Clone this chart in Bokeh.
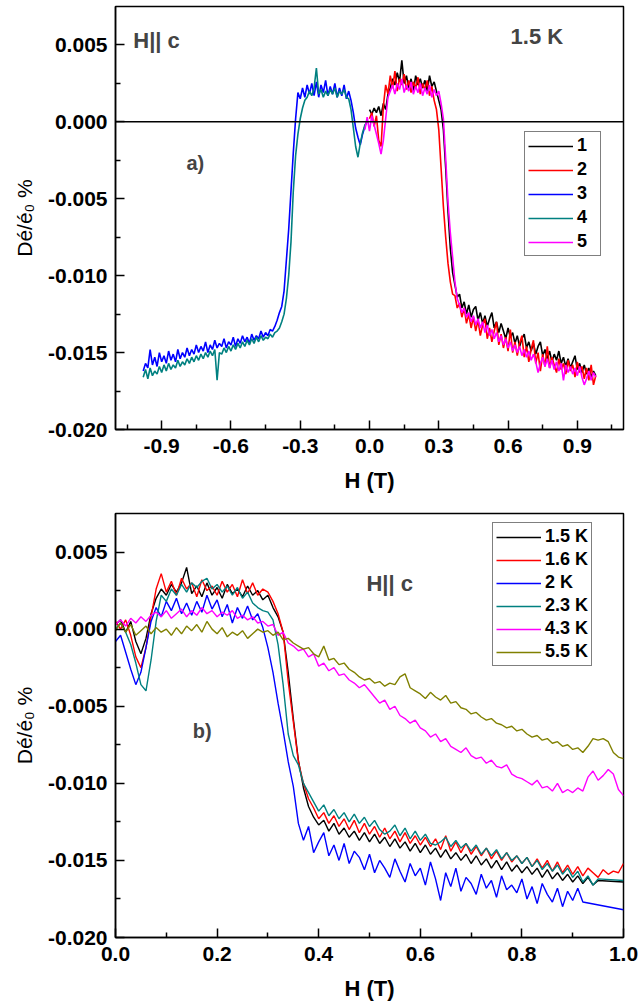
from bokeh.plotting import figure
from bokeh.layouts import column
from bokeh.models import (Span, Label, Legend, LegendItem, FixedTicker,
                          PrintfTickFormatter, Range1d)
from bokeh.embed import file_html
from bokeh.resources import INLINE

FONT = "Liberation Sans"
UNIT = 1e-4  # all series values below are De/e0 % in units of 1e-4

# ---------------- panel a) : H || c, 1.5 K ----------------
H_POS = [round(0.01 * i, 2) for i in range(99)]        # 0.00 .. 0.98
H_POS5 = [round(0.01 * i, 2) for i in range(-2, 99)]   # -0.02 .. 0.98
H_NEG = [round(0.01 * i, 2) for i in range(-98, 0)]    # -0.98 .. -0.01

A1 = [8, 5, 9, 6, 10, 4, 12, 8, 18, 22,
      28, 24, 32, 26, 40, 25, 30, 22, 28, 20,
      30, 24, 28, 22, 27, 20, 30, 23, 26, 20,
      14, 8, -5, -30, -58, -82, -98, -106, -114, -112,
      -121, -117, -125, -119, -127, -122, -120, -129, -124, -131,
      -126, -133, -128, -124, -134, -130, -137, -131, -136, -141,
      -134, -140, -137, -144, -139, -146, -141, -138, -147, -143,
      -149, -144, -151, -146, -143, -152, -148, -154, -149, -156,
      -151, -155, -149, -157, -153, -159, -154, -160, -156, -152,
      -161, -157, -163, -158, -164, -160, -166, -162, -165]

A2 = [2, 6, -3, 4, -12, -16, 10, 24, 18, 30,
      22, 33, 20, 28, 24, 31, 21, 27, 19, 26,
      22, 29, 18, 25, 21, 27, 17, 23, 14, 8,
      -5, -30, -55, -75, -92, -104, -112, -113, -121, -118,
      -127, -121, -131, -125, -134, -127, -136, -129, -139, -132,
      -128, -141, -134, -143, -136, -130, -145, -138, -147, -140,
      -149, -135, -150, -143, -152, -144, -139, -153, -146, -156,
      -148, -142, -157, -150, -162, -151, -159, -146, -160, -153,
      -158, -163, -154, -161, -157, -164, -155, -162, -158, -166,
      -156, -163, -159, -167, -160, -168, -158, -171, -165]

A3 = [-162, -157, -160, -148, -158, -153, -159, -150, -156, -152,
      -157, -149, -155, -151, -156, -148, -154, -150, -153, -147,
      -152, -148, -151, -145, -150, -146, -149, -143, -150, -145,
      -148, -142, -147, -144, -146, -141, -147, -143, -145, -140,
      -146, -141, -144, -139, -143, -140, -144, -138, -142, -139,
      -141, -136, -140, -137, -139, -135, -136, -133, -129, -124,
      -120, -110, -90, -70, -45, -20, 2, 19, 15, 22,
      16, 24, 18, 25, 17, 26, 16, 24, 19, 27,
      17, 23, 18, 25, 16, 22, 17, 24, 15, 20,
      14, 6, -4, -10, -15, -8, -3, 1]

A4 = [-166, -161, -167, -160, -165, -162, -164, -159, -163, -158,
      -162, -157, -161, -158, -160, -155, -159, -156, -158, -154,
      -157, -153, -156, -152, -155, -151, -154, -150, -153, -149,
      -152, -148, -168, -150, -151, -147, -150, -146, -149, -145,
      -148, -144, -147, -143, -146, -142, -145, -141, -144, -140,
      -143, -139, -142, -140, -141, -138, -140, -137, -136, -134,
      -130, -125, -115, -100, -78, -45, -22, -8, 2, 9,
      14, 16, 20, 17, 22, 35, 18, 21, 16, 20,
      17, 21, 18, 22, 16, 20, 18, 21, 16, 15,
      8, -4, -16, -23, -14, -7, -2, 0]

A5 = [-5, 3,
      -6, 4, -2, -8, -14, -21, -12, 2, 16, 20,
      24, 18, 25, 21, 28, 19, 24, 20, 26, 18,
      23, 19, 25, 17, 22, 18, 24, 16, 21, 17,
      20, 12, 2, -24, -52, -72, -88, -104, -115, -119,
      -124, -121, -127, -124, -130, -126, -132, -128, -134, -130,
      -137, -132, -139, -135, -141, -137, -143, -139, -145, -141,
      -147, -143, -149, -145, -150, -146, -152, -148, -153, -149,
      -155, -151, -156, -163, -157, -153, -159, -154, -160, -155,
      -161, -156, -162, -157, -168, -158, -163, -159, -164, -160,
      -165, -159, -166, -171, -167, -162, -168, -163, -166]

LABELS_A = ["1", "2", "3", "4", "5"]

# ---------------- panel b) : temperatures ----------------
H_B = [round(0.01 * i, 2) for i in range(101)]         # 0.00 .. 1.00

B1 = [3, 6, -2, 5, -8, -16, -6, 10, 20, 26,
      22, 29, 24, 30, 40, 23, 28, 21, 30, 22,
      27, 20, 29, 23, 26, 21, 28, 22, 25, 19,
      22, 14, 8, -2, -28, -58, -85, -103, -115, -122,
      -127, -124, -131, -126, -133, -129, -135, -131, -137, -132,
      -138, -133, -139, -135, -141, -136, -142, -138, -144, -139,
      -145, -140, -146, -142, -148, -143, -149, -145, -150, -146,
      -152, -147, -153, -149, -155, -150, -156, -151, -157, -153,
      -158, -154, -159, -155, -161, -156, -162, -158, -163, -159,
      -164, -160, -165, -161, -166, -163,
      -164]
H_B1 = H_B[:96] + [1.0]

B2 = [5, 0, 6, -4, -18, -25, -12, 8, 26, 36,
      24, 31, 22, 33, 26, 30, 21, 32, 25, 28,
      22, 31, 24, 29, 21, 32, 23, 30, 22, 26,
      24, 18, 10, -2, -34, -60, -86, -100, -110, -116,
      -123, -119, -126, -121, -128, -123, -130, -124, -132, -126,
      -133, -128, -135, -129, -136, -131, -138, -132, -139, -134,
      -140, -135, -141, -136, -143, -134, -144, -138, -145, -139,
      -146, -141, -147, -142, -149, -144, -150, -145, -151, -147,
      -152, -148, -154, -149, -155, -150, -157, -151, -158, -153,
      -159, -154, -160, -155, -158, -161, -156, -159, -157, -158,
      -152]

B3 = [-8, -4, -15, -26, -36, -28, -12, 5, 14, 8,
      18, 12, 20, 10, 17, 9, 18, 11, 22, 13,
      19, 8, 16, 4, 14, 7, 15, 6, 10, 1,
      -12, -28, -48, -66, -86, -102, -126, -137, -128, -145,
      -138, -132, -147, -140, -150, -139, -152, -144, -148, -156,
      -146, -158, -150, -155, -161, -149, -157, -164, -152, -160,
      -155, -166, -151, -162, -176, -158, -167, -155, -170, -161,
      -165, -172, -159, -168, -163, -174, -160, -169, -166, -171,
      -162, -175, -167, -178, -165, -172, -177, -168, -180, -170,
      -176, -168, -177,
      -182]
H_B3 = H_B[:93] + [1.0]

B4 = [0, 4, -2, -10, -22, -36, -40, -20, 5, 22,
      18, 26, 22, 29, 24, 30, 27, 31, 33, 26,
      29, 24, 28, 22, 27, 20, 24, 17, 14, 12,
      11, 6, -10, -36, -68, -82, -88, -100, -106, -112,
      -118, -114, -121, -117, -123, -119, -125, -120, -126, -122,
      -128, -124, -130, -133, -131, -127, -134, -129, -136, -131,
      -137, -133, -139, -140, -138, -135, -141, -137, -142, -139,
      -144, -140, -146, -142, -147, -143, -149, -145, -150, -147,
      -152, -148, -154, -150, -156, -152, -157, -153, -159, -155,
      -161, -157, -164, -160, -166, -162,
      -163]
H_B4 = H_B[:96] + [1.0]

B5 = [3, 6, 2, 7, 4, 8, 5, 9, 11, 8,
      12, 7, 10, 13, 8, 12, 9, 14, 10, 12,
      8, 11, 9, 12, 7, 9, 6, 8, 4, 5,
      2, 3, -4, -2, -9, -11, -14, -13, -18, -16,
      -24, -22, -27, -25, -30, -29, -33, -35, -38, -36,
      -40, -44, -48, -46, -52, -50, -56, -58, -61, -59,
      -64, -66, -70, -68, -73, -71, -76, -78, -80, -77,
      -82, -84, -83, -87, -85, -89, -90, -88, -94, -96,
      -97, -99, -101, -98, -103, -102, -105, -100, -106, -104,
      -106, -103, -105, -96, -92, -98, -95, -91, -94, -104,
      -108]

B6 = [-1, 4, -2, 3, -4, -1, 2, -3, 1, -2,
      0, -4, 1, -3, 2, -1, 3, -2, 5, 0,
      -3, 1, -5, -2, -4, -1, -6, -3, 0, -2,
      -1, -4, -2, -7, -6, -9, -11, -13, -12, -16,
      -18, -11, -20, -19, -23, -22, -26, -28, -31, -33,
      -32, -35, -34, -37, -35, -36, -31, -29, -38, -40,
      -42, -45, -41, -44, -46, -43, -48, -47, -51, -52,
      -55, -54, -57, -59, -58, -61, -62, -64, -63, -66,
      -65, -68, -70, -69, -72, -71, -74, -73, -76, -75,
      -78, -77, -80, -76, -71, -72, -71, -73, -80, -83,
      -84]

LABELS_B = ["1.5 K", "1.6 K", "2 K", "2.3 K", "4.3 K", "5.5 K"]

COLORS_A = ["#000000", "#ff0000", "#0000ff", "#008080", "#ff00ff"]
COLORS_B = ["#000000", "#ff0000", "#0000ff", "#008080", "#ff00ff", "#808000"]

Y_TICKS = [-0.020, -0.015, -0.010, -0.005, 0, 0.005]
Y_MINOR = [-0.0175, -0.0125, -0.0075, -0.0025, 0.0025]
XA_TICKS = [-0.9, -0.6, -0.3, 0, 0.3, 0.6, 0.9]
XA_MINOR = [-1.05, -0.75, -0.45, -0.15, 0.15, 0.45, 0.75, 1.05]
XB_TICKS = [0, 0.2, 0.4, 0.6, 0.8, 1.0]
XB_MINOR = [0.1, 0.3, 0.5, 0.7, 0.9]

Y_LABEL = "Dé/é\u2080 %"


def scaled(vals):
    return [v * UNIT for v in vals]


def style(p, xt, xm, xfmt):
    p.xgrid.visible = False
    p.ygrid.visible = False
    p.outline_line_color = "black"
    p.outline_line_width = 1.5
    p.outline_line_alpha = 1.0
    p.background_fill_color = "white"
    p.border_fill_color = "white"
    p.xaxis.ticker = FixedTicker(ticks=xt, minor_ticks=xm)
    p.yaxis.ticker = FixedTicker(ticks=Y_TICKS, minor_ticks=Y_MINOR)
    p.xaxis.formatter = PrintfTickFormatter(format=xfmt)
    p.yaxis.formatter = PrintfTickFormatter(format="%.3f")
    for ax in list(p.xaxis) + list(p.yaxis):
        ax.axis_line_width = 1.5
        ax.axis_line_color = "black"
        ax.major_tick_line_width = 1.5
        ax.minor_tick_line_width = 1.5
        ax.major_tick_line_color = "black"
        ax.minor_tick_line_color = "black"
        ax.major_tick_in = 9
        ax.major_tick_out = 0
        ax.minor_tick_in = 5
        ax.minor_tick_out = 0
        ax.major_label_text_font = FONT
        ax.major_label_text_font_style = "bold"
        ax.major_label_text_font_size = "21px"
        ax.major_label_text_color = "black"
    p.xaxis.major_label_standoff = 9
    p.yaxis.major_label_standoff = 8
    p.xaxis.axis_label = "H (T)"
    p.xaxis.axis_label_text_font = FONT
    p.xaxis.axis_label_text_font_style = "bold"
    p.xaxis.axis_label_text_font_size = "22px"
    p.xaxis.axis_label_text_color = "black"
    p.xaxis.axis_label_standoff = 12
    p.yaxis.axis_label = Y_LABEL
    p.yaxis.axis_label_text_font = FONT
    p.yaxis.axis_label_text_font_style = "normal"
    p.yaxis.axis_label_text_font_size = "21px"
    p.yaxis.axis_label_text_color = "black"
    p.yaxis.axis_label_standoff = 9


def make_legend(items, loc, spacing):
    lg = Legend(items=items, location=loc)
    lg.label_text_font = FONT
    lg.label_text_font_style = "bold"
    lg.label_text_font_size = "18px"
    lg.label_text_color = "black"
    lg.glyph_width = 45
    lg.glyph_height = 20
    lg.label_height = 20
    lg.label_standoff = 4
    lg.spacing = spacing
    lg.padding = 3
    lg.margin = 0
    lg.border_line_color = "black"
    lg.border_line_width = 1.2
    lg.background_fill_color = "white"
    lg.background_fill_alpha = 1.0
    return lg


# ---------------- figure a ----------------
p1 = figure(width=639, height=500, x_range=Range1d(-1.1, 1.1),
            y_range=Range1d(-0.020, 0.0075), output_backend="svg",
            toolbar_location=None, min_border_left=115, min_border_right=16,
            min_border_top=6, min_border_bottom=71)
style(p1, XA_TICKS, XA_MINOR, "%.1f")

series_a = [(H_POS, A1), (H_POS, A2), (H_NEG, A3), (H_NEG, A4), (H_POS5, A5)]
items_a = []
for (hx, vals), col, lab in zip(series_a, COLORS_A, LABELS_A):
    r = p1.line(hx, scaled(vals), line_color=col, line_width=1.6)
    items_a.append(LegendItem(label=lab, renderers=[r]))

p1.add_layout(Span(location=0, dimension="width", line_color="black",
                   line_width=1.5))
p1.add_layout(make_legend(items_a, (409, 173), 3))
p1.add_layout(Label(x=-1.023, y=0.0053, text="H|| c", text_font=FONT,
                    text_font_style="bold", text_font_size="22px",
                    text_baseline="alphabetic"))
p1.add_layout(Label(x=0.611, y=0.00558, text="1.5 K", text_font=FONT,
                    text_font_style="bold", text_font_size="22px",
                    text_baseline="alphabetic"))
p1.add_layout(Label(x=-0.793, y=-0.00266, text="a)", text_font=FONT,
                    text_font_style="bold", text_font_size="20px",
                    text_baseline="alphabetic"))

# ---------------- figure b ----------------
p2 = figure(width=639, height=507, x_range=Range1d(0.0, 1.0),
            y_range=Range1d(-0.020, 0.0075), output_backend="svg",
            toolbar_location=None, min_border_left=115, min_border_right=16,
            min_border_top=13, min_border_bottom=70)
style(p2, XB_TICKS, XB_MINOR, "%.1f")

series_b = [(H_B1, B1), (H_B, B2), (H_B3, B3), (H_B4, B4), (H_B, B5), (H_B, B6)]
items_b = []
for (hx, vals), col, lab in zip(series_b, COLORS_B, LABELS_B):
    r = p2.line(hx, scaled(vals), line_color=col, line_width=1.4)
    items_b.append(LegendItem(label=lab, renderers=[r]))

p2.add_layout(make_legend(items_b, (377, 271), 2))
p2.add_layout(Label(x=0.494, y=0.00296, text="H|| c", text_font=FONT,
                    text_font_style="bold", text_font_size="22px",
                    text_baseline="alphabetic"))
p2.add_layout(Label(x=0.152, y=-0.00658, text="b)", text_font=FONT,
                    text_font_style="bold", text_font_size="20px",
                    text_baseline="alphabetic"))

layout = column(p1, p2, spacing=0)
open("out.html", "w").write(file_html(layout, INLINE))
